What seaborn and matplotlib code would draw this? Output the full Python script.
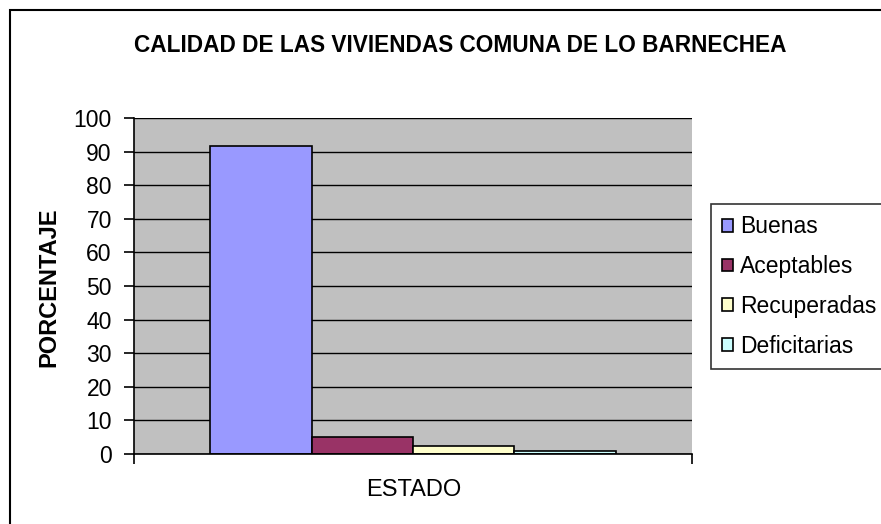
import pandas as pd
import matplotlib.pyplot as plt
import seaborn as sns
from matplotlib.patches import Rectangle

categories = ['Buenas', 'Aceptables', 'Recuperadas', 'Deficitarias']
values = [91.6, 5.1, 2.3, 1.0]
colors = ['#9999FF', '#993366', '#FFFFCC', '#CCFFFF']
yticks = list(range(0, 101, 10))

df = pd.DataFrame({'estado': ['ESTADO'] * len(categories),
                   'calidad': categories,
                   'porcentaje': values})

sns.set_style('white')
plt.rcParams['font.family'] = ['Liberation Sans', 'DejaVu Sans']
plt.rcParams['text.color'] = 'black'
plt.rcParams['axes.labelcolor'] = 'black'
plt.rcParams['xtick.color'] = 'black'
plt.rcParams['ytick.color'] = 'black'

fig = plt.figure(figsize=(8.81, 5.24), dpi=100)
ax = fig.add_axes([134 / 881, 70 / 524, 558 / 881, 336 / 524])

sns.barplot(data=df, x='estado', y='porcentaje', hue='calidad',
            hue_order=categories, palette=colors, width=0.727, gap=0,
            edgecolor='black', linewidth=1.2, saturation=1, ax=ax, legend=False)

ax.set_facecolor('#C0C0C0')
ax.set_ylim(0, 100)
ax.set_xlim(-0.5, 0.5)
ax.set_yticks(yticks)
ax.yaxis.grid(True, color='black', linewidth=1)
ax.set_axisbelow(True)
ax.set_xticks([-0.5, 0.5])
ax.set_xticklabels([])
ax.tick_params(axis='both', direction='out', length=7, width=1.2,
               labelsize=16.5, left=True, bottom=True)
ax.tick_params(axis='y', pad=9)
for side in ['top', 'right']:
    ax.spines[side].set_visible(False)
for side in ['left', 'bottom']:
    ax.spines[side].set_color('black')
    ax.spines[side].set_linewidth(1.2)

ax.set_xlabel('')
ax.set_ylabel('')
fig.text(49 / 881, 1 - 287 / 524, 'PORCENTAJE', rotation=90, ha='center',
         va='center', fontsize=17, fontweight='bold')
fig.text(414 / 881, 1 - 490 / 524, 'ESTADO', ha='center', va='center',
         fontsize=17)

fig.text(460 / 881, 1 - 45 / 524, 'CALIDAD DE LAS VIVIENDAS COMUNA DE LO BARNECHEA',
         ha='center', va='center', fontsize=16.3, fontweight='bold')

handles = [Rectangle((0, 0), 1, 1, facecolor=c, edgecolor='black', linewidth=1.2)
           for c in colors]
leg = fig.legend(handles, categories, loc='upper left',
                 bbox_to_anchor=(711 / 881, 1 - 204 / 524), fontsize=16.5,
                 frameon=True, fancybox=False, edgecolor='black',
                 handlelength=0.47, handleheight=0.47, handletextpad=0.3,
                 labelspacing=0.73, borderpad=0.5, borderaxespad=0)
leg.get_frame().set_linewidth(1.2)

fig.patches.append(Rectangle((10 / 881, -0.05), 1.1, 1 - 10 / 524 + 0.05,
                             transform=fig.transFigure, fill=False,
                             edgecolor='black', linewidth=1.5))

fig.savefig('out.png', dpi=100)
